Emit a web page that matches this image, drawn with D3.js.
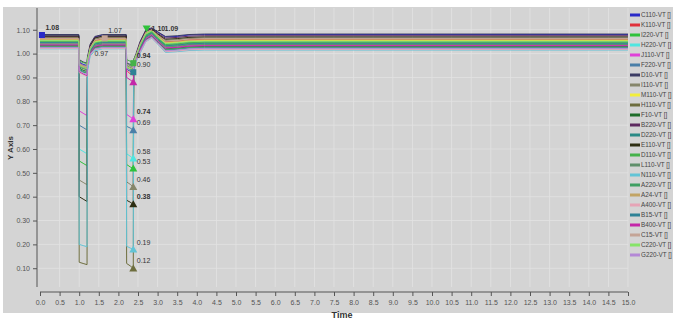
<!DOCTYPE html>
<html>
<head>
<meta charset="utf-8">
<script src="https://cdn.jsdelivr.net/npm/d3@7"></script>
<style>
  body { margin: 0; background: #fff; }
  text { font-family: "Liberation Sans", Arial, sans-serif; }
</style>
</head>
<body>
<div id="chart"></div>
<script>
// sample times (s), shared by every series
const timePoints = [0, 0.99, 1.0, 1.1, 1.2, 1.21, 1.28, 1.4, 1.6, 2.2, 2.21, 2.3, 2.38, 2.39, 2.45, 2.55, 2.7, 2.85, 3.0, 3.2, 3.5, 3.8, 4.2, 5.0, 15.0];

const seriesNames = ['C110-VT []', 'K110-VT []', 'I220-VT []', 'H220-VT []', 'J110-VT []', 'F220-VT []', 'D10-VT []',
  'I110-VT []', 'M110-VT []', 'H110-VT []', 'F10-VT []', 'B220-VT []', 'D220-VT []', 'E110-VT []', 'D110-VT []',
  'L110-VT []', 'N110-VT []', 'A220-VT []', 'A24-VT []', 'A400-VT []', 'B15-VT []', 'B400-VT []', 'C15-VT []',
  'C220-VT []', 'G220-VT []'];

const seriesColors = ['#2a2ac8', '#e0303a', '#2fc23a', '#4fe6e0', '#e040d8', '#4a7fa8', '#3c3c64',
  '#86866a', '#f2ee3a', '#6e6e3e', '#1f6e2a', '#5e2a60', '#2a8a86', '#2e2e12', '#45b24a',
  '#5f8f6a', '#62c4d6', '#3f9f62', '#c2a464', '#e6a4b6', '#2f8296', '#c426a8', '#c4a496',
  '#86e468', '#b488d6'];

// per-unit voltage per series, one value per time point
const seriesValues = [
  [1.078,1.078, 0.965,0.955,0.950, 0.975,1.030,1.070,1.078,1.078, 0.935,0.925,0.920, 0.960,0.990,1.040,1.095,1.105,1.090,1.070,1.072,1.078,1.080,1.080,1.080],
  [1.062,1.062, 0.950,0.940,0.935, 0.965,1.020,1.055,1.062,1.062, 0.930,0.915,0.910, 0.950,0.985,1.030,1.085,1.095,1.075,1.050,1.052,1.058,1.060,1.060,1.060],
  [1.048,1.048, 0.550,0.540,0.530, 0.940,1.010,1.040,1.048,1.048, 0.535,0.525,0.518, 0.945,0.980,1.020,1.075,1.090,1.065,1.035,1.038,1.043,1.045,1.045,1.045],
  [1.025,1.025, 0.600,0.590,0.580, 0.930,0.995,1.015,1.025,1.025, 0.580,0.570,0.560, 0.935,0.970,1.005,1.055,1.070,1.045,1.010,1.012,1.018,1.020,1.020,1.020],
  [1.040,1.040, 0.760,0.750,0.740, 0.935,1.000,1.030,1.040,1.040, 0.745,0.735,0.725, 0.920,0.975,1.015,1.065,1.080,1.055,1.025,1.028,1.033,1.035,1.035,1.035],
  [1.052,1.052, 0.700,0.690,0.680, 0.945,1.012,1.045,1.052,1.052, 0.695,0.688,0.679, 0.940,0.980,1.025,1.080,1.095,1.070,1.040,1.043,1.048,1.050,1.050,1.050],
  [1.080,1.080, 0.975,0.965,0.960, 0.985,1.040,1.072,1.080,1.080, 0.960,0.955,0.950, 0.975,1.000,1.050,1.100,1.108,1.092,1.072,1.075,1.080,1.082,1.082,1.082],
  [1.044,1.044, 0.470,0.460,0.450, 0.935,1.005,1.035,1.044,1.044, 0.462,0.452,0.441, 0.935,0.975,1.015,1.070,1.085,1.060,1.030,1.033,1.038,1.040,1.040,1.040],
  [1.058,1.058, 0.945,0.935,0.930, 0.960,1.020,1.050,1.058,1.058, 0.945,0.935,0.930, 0.955,0.985,1.035,1.085,1.098,1.072,1.045,1.048,1.053,1.055,1.055,1.055],
  [1.068,1.068, 0.125,0.120,0.115, 0.950,1.025,1.060,1.068,1.068, 0.120,0.110,0.099, 0.930,0.985,1.035,1.090,1.100,1.080,1.055,1.058,1.063,1.065,1.065,1.065],
  [1.033,1.033, 0.940,0.930,0.925, 0.955,1.005,1.028,1.033,1.033, 0.955,0.948,0.940, 0.960,0.980,1.015,1.060,1.075,1.050,1.020,1.023,1.028,1.030,1.030,1.030],
  [1.072,1.072, 0.960,0.950,0.945, 0.975,1.035,1.068,1.072,1.072, 0.950,0.940,0.935, 0.965,0.995,1.045,1.095,1.104,1.085,1.065,1.068,1.073,1.075,1.075,1.075],
  [1.028,1.028, 0.935,0.925,0.920, 0.950,1.000,1.022,1.028,1.028, 0.950,0.942,0.935, 0.955,0.978,1.010,1.058,1.072,1.048,1.015,1.018,1.023,1.025,1.025,1.025],
  [1.074,1.074, 0.400,0.390,0.380, 0.955,1.030,1.065,1.074,1.074, 0.385,0.377,0.368, 0.940,0.990,1.040,1.092,1.102,1.082,1.060,1.063,1.068,1.070,1.070,1.070],
  [1.050,1.050, 0.970,0.962,0.958, 0.980,1.020,1.045,1.050,1.050, 0.975,0.968,0.960, 0.975,0.995,1.030,1.078,1.092,1.068,1.038,1.041,1.046,1.048,1.048,1.048],
  [1.040,1.040, 0.950,0.942,0.938, 0.962,1.010,1.035,1.040,1.040, 0.955,0.948,0.942, 0.960,0.985,1.022,1.068,1.082,1.058,1.028,1.031,1.036,1.038,1.038,1.038],
  [1.020,1.020, 0.200,0.195,0.190, 0.925,0.990,1.012,1.020,1.020, 0.192,0.185,0.178, 0.925,0.965,1.000,1.050,1.065,1.040,1.005,1.008,1.013,1.015,1.015,1.015],
  [1.030,1.030, 0.930,0.922,0.918, 0.950,1.002,1.025,1.030,1.030, 0.940,0.932,0.925, 0.950,0.975,1.012,1.060,1.074,1.050,1.018,1.021,1.026,1.028,1.028,1.028],
  [1.060,1.060, 0.955,0.946,0.940, 0.968,1.022,1.053,1.060,1.060, 0.948,0.940,0.934, 0.960,0.988,1.036,1.087,1.098,1.075,1.048,1.051,1.056,1.058,1.058,1.058],
  [1.022,1.022, 0.920,0.912,0.905, 0.945,0.995,1.017,1.022,1.022, 0.930,0.922,0.915, 0.945,0.970,1.005,1.052,1.066,1.042,1.008,1.011,1.016,1.018,1.018,1.018],
  [1.046,1.046, 0.945,0.937,0.932, 0.960,1.012,1.040,1.046,1.046, 0.935,0.928,0.922, 0.955,0.982,1.024,1.072,1.087,1.062,1.033,1.036,1.041,1.043,1.043,1.043],
  [1.036,1.036, 0.925,0.915,0.908, 0.950,1.004,1.030,1.036,1.036, 0.900,0.890,0.880, 0.940,0.975,1.015,1.062,1.077,1.052,1.023,1.026,1.031,1.033,1.033,1.033],
  [1.064,1.064, 0.958,0.950,0.944, 0.970,1.026,1.058,1.064,1.064, 0.955,0.946,0.940, 0.965,0.992,1.040,1.090,1.100,1.078,1.053,1.056,1.061,1.063,1.063,1.063],
  [1.054,1.054, 0.950,0.942,0.936, 0.965,1.018,1.048,1.054,1.054, 0.945,0.938,0.930, 0.958,0.985,1.032,1.082,1.095,1.070,1.042,1.045,1.050,1.052,1.052,1.052],
  [1.026,1.026, 0.928,0.918,0.912, 0.948,0.998,1.020,1.026,1.026, 0.938,0.930,0.922, 0.948,0.972,1.008,1.055,1.069,1.045,1.012,1.015,1.020,1.022,1.022,1.022]
];

// min/max markers: series index, time, value, label text, bold label, shape
const markerSeries = [4, 5, 3, 2, 7, 13, 16, 9, 14, 20, 21, 2, 6, 0, 22, 13];
const markerTimes  = [2.38, 2.38, 2.38, 2.38, 2.38, 2.38, 2.38, 2.38, 2.38, 2.38, 2.38, 2.72, 3.05, 0.05, 1.65, 1.3];
const markerValues = [0.725, 0.679, 0.560, 0.518, 0.441, 0.368, 0.178, 0.099, 0.960, 0.922, 0.880, 1.105, 1.105, 1.078, 1.064, 0.97];
const markerLabels = ['0.74', '0.69', '0.58', '0.53', '0.46', '0.38', '0.19', '0.12', '0.94', '0.90', '', '1.10', '1.09', '1.08', '1.07', '0.97'];
const markerBold   = [true, false, false, false, false, true, false, false, true, false, false, true, true, true, false, false];
const markerShapes = ['up', 'up', 'up', 'up', 'up', 'up', 'up', 'up', 'square', 'square', 'up', 'down', 'none', 'square', 'square', 'none'];
const markerLabelSide = ['above', 'above', 'above', 'above', 'above', 'above', 'above', 'above', 'above', 'above', 'above', 'right', 'right', 'above', 'above', 'above'];

const xTicks = d3.range(0, 15.01, 0.5);
const yTicks = [0.10, 0.20, 0.30, 0.40, 0.50, 0.60, 0.70, 0.80, 0.90, 1.00, 1.10];

const W = 673, H = 320;
const plot = { left: 37, right: 628, top: 8, bottom: 287 };

const svg = d3.select('#chart').append('svg')
  .attr('width', W).attr('height', H);

svg.append('rect').attr('x', 3).attr('y', 7).attr('width', W - 3).attr('height', 306)
  .attr('fill', '#d4d4d4');

const x = d3.scaleLinear().domain([0, 15]).range([40, 628]);
const y = d3.scaleLinear().domain([0.02, 1.19]).range([287.3, 8.3]);

// grid
svg.append('g').selectAll('line').data(xTicks.slice(1)).join('line')
  .attr('x1', d => x(d)).attr('x2', d => x(d))
  .attr('y1', plot.top).attr('y2', plot.bottom)
  .attr('stroke', '#e2e2e2').attr('stroke-width', 0.8);
svg.append('g').selectAll('line').data(yTicks).join('line')
  .attr('x1', plot.left).attr('x2', plot.right)
  .attr('y1', d => y(d)).attr('y2', d => y(d))
  .attr('stroke', '#e2e2e2').attr('stroke-width', 0.8);

// y axis
const yAxis = svg.append('g')
  .attr('transform', `translate(${plot.left},0)`)
  .call(d3.axisLeft(y).tickValues(yTicks).tickFormat(d3.format('.2f')).tickSize(4).tickPadding(3));
yAxis.select('.domain').attr('d', `M0,${plot.top}V${plot.bottom}`).attr('stroke', '#555');
yAxis.selectAll('.tick line').attr('stroke', '#555');
yAxis.selectAll('.tick text').attr('font-size', 7).attr('fill', '#555');

// x axis (offset below the plot)
const xAxis = svg.append('g')
  .attr('transform', 'translate(0,292)')
  .call(d3.axisBottom(x).tickValues(xTicks).tickFormat(d3.format('.1f')).tickSize(4).tickPadding(4));
xAxis.select('.domain').attr('d', `M${x(0)},0H${x(15)}`).attr('stroke', '#555');
xAxis.selectAll('.tick line').attr('stroke', '#555');
xAxis.selectAll('.tick text').attr('font-size', 7).attr('fill', '#555');

svg.append('text').attr('x', 342).attr('y', 318).attr('text-anchor', 'middle')
  .attr('font-size', 9).attr('font-weight', 'bold').attr('fill', '#333').text('Time');
svg.append('text').attr('transform', 'translate(13,148) rotate(-90)').attr('text-anchor', 'middle')
  .attr('font-size', 8).attr('font-weight', 'bold').attr('fill', '#333').text('Y Axis');

// series lines
svg.append('clipPath').attr('id', 'clip').append('rect')
  .attr('x', plot.left).attr('y', plot.top).attr('width', plot.right - plot.left).attr('height', plot.bottom - plot.top);

const line = d3.line().x((d, i) => x(timePoints[i])).y(d => y(d));
svg.append('g').attr('clip-path', 'url(#clip)')
  .selectAll('path').data(seriesValues).join('path')
  .attr('d', line)
  .attr('fill', 'none')
  .attr('stroke', (d, i) => seriesColors[i])
  .attr('stroke-width', 1);

// markers and labels
const markers = markerSeries.map((s, i) => ({
  s, t: markerTimes[i], v: markerValues[i], label: markerLabels[i], bold: markerBold[i],
  shape: markerShapes[i], side: markerLabelSide[i]
}));
const mg = svg.append('g');
markers.forEach(m => {
  const cx = x(m.t), cy = y(m.v);
  if (m.shape === 'up') {
    mg.append('path').attr('d', `M${cx},${cy - 4}L${cx + 4},${cy + 3}L${cx - 4},${cy + 3}Z`)
      .attr('fill', seriesColors[m.s]);
  } else if (m.shape === 'down') {
    mg.append('path').attr('d', `M${cx - 4},${cy - 3}L${cx + 4},${cy - 3}L${cx},${cy + 4}Z`)
      .attr('fill', seriesColors[m.s]);
  } else if (m.shape === 'square') {
    mg.append('rect').attr('x', cx - 3).attr('y', cy - 3).attr('width', 6).attr('height', 6)
      .attr('fill', seriesColors[m.s]);
  }
  if (m.label) {
    const right = m.side === 'right';
    mg.append('text').attr('x', right ? cx + 5 : cx + 3.5).attr('y', right ? cy + 2.5 : cy - 5)
      .attr('font-size', 7).attr('font-weight', m.bold ? 'bold' : 'normal')
      .attr('fill', '#333').text(m.label);
  }
});

// legend
const legend = svg.append('g').selectAll('g').data(seriesNames).join('g')
  .attr('transform', (d, i) => `translate(630,${15 + i * 10})`);
legend.append('line').attr('x1', 0).attr('x2', 10).attr('y1', 0).attr('y2', 0)
  .attr('stroke', (d, i) => seriesColors[i]).attr('stroke-width', 3);
legend.append('text').attr('x', 11).attr('y', 2.3)
  .attr('font-family', '"Liberation Sans Narrow", "Liberation Sans", sans-serif')
  .attr('font-size', 6.3).attr('fill', '#444').text(d => d);
</script>
</body>
</html>
